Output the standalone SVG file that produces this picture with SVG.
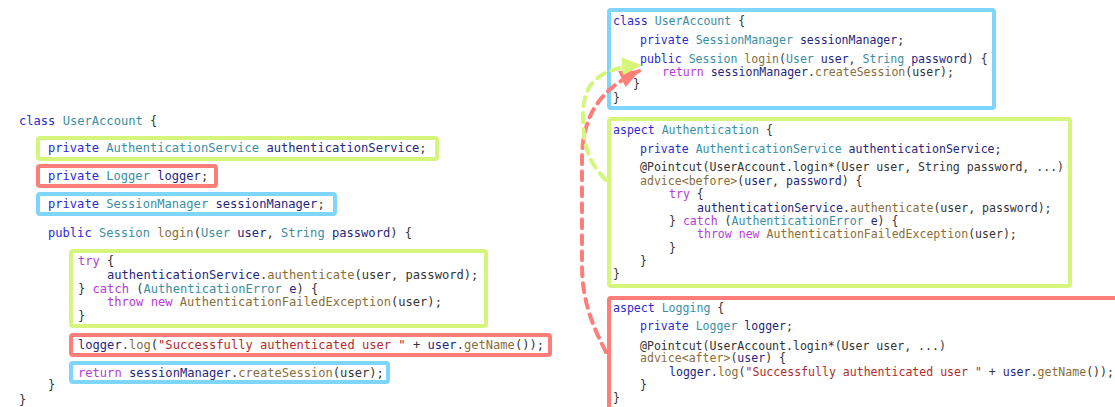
<svg xmlns="http://www.w3.org/2000/svg" width="1115" height="407" viewBox="0 0 1115 407">
<style>
text{font-family:"DejaVu Sans Mono","Liberation Mono",monospace;fill:#333;white-space:pre}
.l{font-size:12.1px}
.r{font-size:11.55px}
.kw{fill:#2a2ad4}
.ty{fill:#3a8ea2}
.id{fill:#26267e}
.ct{fill:#b83ad8}
.fn{fill:#8b6d3a}
.st{fill:#b52a2a}
.bg{fill:#fff;stroke:#d6f67b;stroke-width:4}
.br{fill:#fff;stroke:#ff7e79;stroke-width:4}
.bb{fill:#fff;stroke:#7ed5fd;stroke-width:4}
.cg{fill:none;stroke:#d6f67b;stroke-width:4;stroke-dasharray:9 7;stroke-linecap:round}
.cr{fill:none;stroke:#ff7e79;stroke-width:4;stroke-dasharray:9 7;stroke-linecap:round}
</style>
<defs>
<marker id="ag" viewBox="0 0 20 18" refX="19" refY="9" markerWidth="20" markerHeight="18" markerUnits="userSpaceOnUse" orient="auto"><path d="M0,0 L20,9 L0,18 z" fill="#d6f67b"/></marker>
<marker id="ar" viewBox="0 0 20 18" refX="19" refY="9" markerWidth="20" markerHeight="18" markerUnits="userSpaceOnUse" orient="auto"><path d="M0,0 L20,9 L0,18 z" fill="#ff7e79"/></marker>
</defs>
<rect width="1115" height="407" fill="#fff"/>
<g id="left-code">
<rect class="bg" x="38" y="138" width="399" height="21" rx="2"/>
<rect class="br" x="38" y="166" width="178" height="20" rx="2"/>
<rect class="bb" x="38" y="194" width="297" height="20" rx="2"/>
<rect class="bg" x="71" y="251" width="415" height="75" rx="2"/>
<rect class="br" x="71" y="335" width="479" height="20" rx="2"/>
<rect class="bb" x="71" y="363" width="317" height="19" rx="2"/>
<text class="l" x="19" y="125" xml:space="preserve"><tspan class="kw">class</tspan> <tspan class="ty">UserAccount</tspan> {</text>
<text class="l" x="48" y="152" xml:space="preserve"><tspan class="kw">private</tspan> <tspan class="ty">AuthenticationService</tspan> <tspan class="id">authenticationService</tspan>;</text>
<text class="l" x="48" y="180" xml:space="preserve"><tspan class="kw">private</tspan> <tspan class="ty">Logger</tspan> <tspan class="id">logger</tspan>;</text>
<text class="l" x="48" y="208" xml:space="preserve"><tspan class="kw">private</tspan> <tspan class="ty">SessionManager</tspan> <tspan class="id">sessionManager</tspan>;</text>
<text class="l" x="48" y="237" xml:space="preserve"><tspan class="kw">public</tspan> <tspan class="ty">Session</tspan> <tspan class="fn">login</tspan>(<tspan class="ty">User</tspan> <tspan class="id">user</tspan>, <tspan class="ty">String</tspan> <tspan class="id">password</tspan>) {</text>
<text class="l" x="78" y="265" xml:space="preserve"><tspan class="ct">try</tspan> {</text>
<text class="l" x="107" y="279" xml:space="preserve"><tspan class="id">authenticationService</tspan>.<tspan class="fn">authenticate</tspan>(user, password);</text>
<text class="l" x="78" y="293" xml:space="preserve">} <tspan class="ct">catch</tspan> (<tspan class="ty">AuthenticationError</tspan> <tspan class="id">e</tspan>) {</text>
<text class="l" x="107" y="306" xml:space="preserve"><tspan class="ct">throw</tspan> <tspan class="ct">new</tspan> <tspan class="fn">AuthenticationFailedException</tspan>(user);</text>
<text class="l" x="78" y="320">}</text>
<text class="l" x="78" y="349" xml:space="preserve"><tspan class="id">logger</tspan>.<tspan class="fn">log</tspan>(<tspan class="st">"Successfully authenticated user "</tspan> + <tspan class="id">user</tspan>.<tspan class="fn">getName</tspan>());</text>
<text class="l" x="78" y="377" xml:space="preserve"><tspan class="ct">return</tspan> <tspan class="id">sessionManager</tspan>.<tspan class="fn">createSession</tspan>(user);</text>
<text class="l" x="48" y="389">}</text>
<text class="l" x="19" y="404">}</text>
</g>
<g id="user-account">
<rect class="bb" x="609" y="10" width="385" height="98" rx="2"/>
<text class="r" x="613" y="25" xml:space="preserve"><tspan class="kw">class</tspan> <tspan class="ty">UserAccount</tspan> {</text>
<text class="r" x="640" y="44" xml:space="preserve"><tspan class="kw">private</tspan> <tspan class="ty">SessionManager</tspan> <tspan class="id">sessionManager</tspan>;</text>
<text class="r" x="640" y="63" xml:space="preserve"><tspan class="kw">public</tspan> <tspan class="ty">Session</tspan> <tspan class="fn">login</tspan>(<tspan class="ty">User</tspan> <tspan class="id">user</tspan>, <tspan class="ty">String</tspan> <tspan class="id">password</tspan>) {</text>
<text class="r" x="662" y="76" xml:space="preserve"><tspan class="ct">return</tspan> <tspan class="id">sessionManager</tspan>.<tspan class="fn">createSession</tspan>(user);</text>
<text class="r" x="633" y="88">}</text>
<text class="r" x="613" y="102">}</text>
</g>
<g id="aspect-authentication">
<rect class="bg" x="609" y="119" width="461" height="167" rx="2"/>
<text class="r" x="613" y="134" xml:space="preserve"><tspan class="kw">aspect</tspan> <tspan class="ty">Authentication</tspan> {</text>
<text class="r" x="640" y="153" xml:space="preserve"><tspan class="kw">private</tspan> <tspan class="ty">AuthenticationService</tspan> <tspan class="id">authenticationService</tspan>;</text>
<text class="r" x="640" y="171" xml:space="preserve">@Pointcut(UserAccount.login*(User user, String password, ...)</text>
<text class="r" x="640" y="185" xml:space="preserve"><tspan class="fn">advice&lt;before&gt;</tspan>(<tspan class="id">user</tspan>, <tspan class="id">password</tspan>) {</text>
<text class="r" x="669" y="198" xml:space="preserve"><tspan class="ct">try</tspan> {</text>
<text class="r" x="697" y="212" xml:space="preserve"><tspan class="id">authenticationService</tspan>.<tspan class="fn">authenticate</tspan>(user, password);</text>
<text class="r" x="669" y="225" xml:space="preserve">} <tspan class="ct">catch</tspan> (<tspan class="ty">AuthenticationError</tspan> <tspan class="id">e</tspan>) {</text>
<text class="r" x="697" y="238" xml:space="preserve"><tspan class="ct">throw</tspan> <tspan class="ct">new</tspan> <tspan class="fn">AuthenticationFailedException</tspan>(user);</text>
<text class="r" x="669" y="252">}</text>
<text class="r" x="640" y="265">}</text>
<text class="r" x="613" y="278">}</text>
</g>
<g id="aspect-logging">
<rect class="br" x="609" y="298" width="520" height="130" rx="2"/>
<text class="r" x="613" y="312" xml:space="preserve"><tspan class="kw">aspect</tspan> <tspan class="ty">Logging</tspan> {</text>
<text class="r" x="640" y="330" xml:space="preserve"><tspan class="kw">private</tspan> <tspan class="ty">Logger</tspan> <tspan class="id">logger</tspan>;</text>
<text class="r" x="640" y="350" xml:space="preserve">@Pointcut(UserAccount.login*(User user, ...)</text>
<text class="r" x="640" y="362" xml:space="preserve"><tspan class="fn">advice&lt;after&gt;</tspan>(<tspan class="id">user</tspan>) {</text>
<text class="r" x="669" y="376" xml:space="preserve"><tspan class="id">logger</tspan>.<tspan class="fn">log</tspan>(<tspan class="st">"Successfully authenticated user "</tspan> + <tspan class="id">user</tspan>.<tspan class="fn">getName</tspan>());</text>
<text class="r" x="640" y="389">}</text>
<text class="r" x="613" y="402">}</text>
</g>
<g id="connectors">
<path class="cr" d="M606,352 C592,325 582,300 582,265 L582,160 C582,118 598,90 639,71" marker-end="url(#ar)"/>
<path class="cg" d="M606,180 C588,162 583,145 583,115 C583,82 600,68 641,65" marker-end="url(#ag)"/>
</g>
</svg>
